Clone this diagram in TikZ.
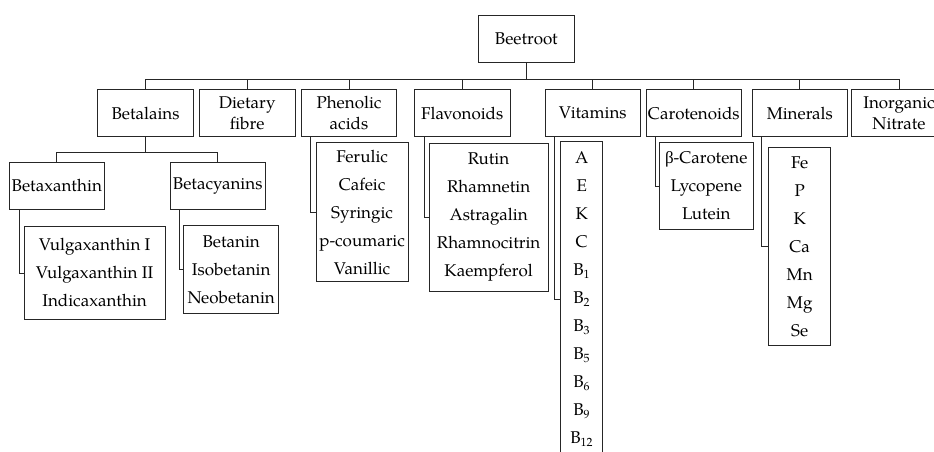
\documentclass[tikz,border=0pt]{standalone}
\usepackage{fontspec}
\setmainfont{TeX Gyre Pagella}
\newfontfamily\grkfont{Liberation Serif}
\begin{document}
\begin{tikzpicture}[x=1pt,y=-1pt,
  bx/.style={draw=black!85,line width=0.8pt,inner sep=0pt,align=center,
    font=\fontsize{17}{21}\selectfont},
  lst/.style={bx,anchor=north west,font=\fontsize{17}{28}\selectfont},
  ln/.style={draw=black!85,line width=0.8pt}]
\useasboundingbox (0,0) rectangle (934,451);
\clip (0,0) rectangle (934,451);
\coordinate (busy) at (0,79.5);
\node[bx,minimum width=96pt,minimum height=47.7pt] (root) at (526.3,38.9) {Beetroot};
\foreach \n/\x/\t in {bet/145.5/Betalains, fib/247.2/{Dietary\\fibre}, phe/349/{Phenolic\\acids},
  fla/462.2/Flavonoids, vit/592.8/Vitamins, car/693.8/Carotenoids, min/799.8/Minerals,
  nit/899/{Inorganic\\Nitrate}}{
  \node[bx,minimum width=95.5pt,minimum height=47.4pt] (\n) at (\x,113) {\t};
  \draw[ln] (root.south) -- (root.south |- busy) -| (\n.north);
}
\node[bx,minimum width=95pt,minimum height=47.3pt] (btx) at (56.8,185.7) {Betaxanthin};
\node[bx,minimum width=95pt,minimum height=47.3pt] (bcy) at (217.7,185.7) {Betacyanins};
\draw[ln] (bet.south) -- ++(0,15) -| (btx.north);
\draw[ln] (bet.south) -- ++(0,15) -| (bcy.north);

\node[lst,minimum width=141pt,minimum height=92.4pt] (vul) at (23.7,226.3)
  {Vulgaxanthin I\\Vulgaxanthin II\\Indicaxanthin};
\node[lst,minimum width=95pt,minimum height=88pt] (btn) at (183.3,225.3)
  {Betanin\\Isobetanin\\Neobetanin};
\node[lst,minimum width=92pt,minimum height=138.7pt] (phl) at (315.7,142.3)
  {Ferulic\\Cafeic\\Syringic\\p-coumaric\\Vanillic};
\node[lst,minimum width=119pt,minimum height=147.4pt] (flv) at (428.7,143.3)
  {Rutin\\Rhamnetin\\Astragalin\\Rhamnocitrin\\Kaempferol};
\node[lst,minimum width=42pt,minimum height=315pt] (vtl) at (560.3,141.3)
  {A\\E\\K\\C\\B\textsubscript{1}\\B\textsubscript{2}\\B\textsubscript{3}\\B\textsubscript{5}\\B\textsubscript{6}\\B\textsubscript{9}\\B\textsubscript{12}};
\node[lst,minimum width=93.7pt,minimum height=86.7pt] (crl) at (659,142.3)
  {{\grkfont β}-Carotene\\Lycopene\\Lutein};
\node[lst,minimum width=62pt,minimum height=198.6pt] (mnl) at (768.3,146.7)
  {Fe\\P\\K\\Ca\\Mn\\Mg\\Se};

\foreach \p/\c in {btx/vul, bcy/btn, phe/phl, fla/flv, vit/vtl, car/crl, min/mnl}{
  \draw[ln] ([xshift=10pt]\p.south west) |- (\c.west);
}
\end{tikzpicture}
\end{document}
